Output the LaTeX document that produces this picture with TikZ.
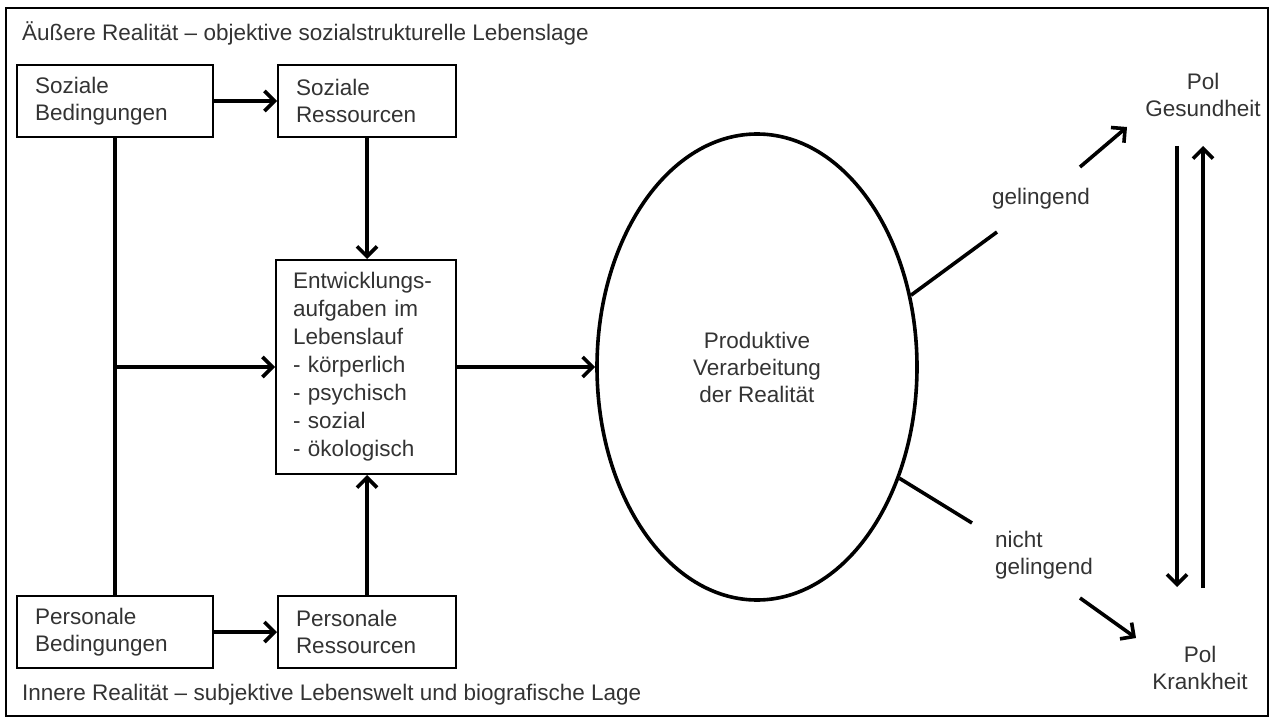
\documentclass[tikz,border=0pt]{standalone}
\usepackage{fontspec}
\setmainfont{Liberation Sans}
\usetikzlibrary{arrows.meta,shapes.geometric}
\definecolor{txtcol}{HTML}{333333}
\begin{document}
\begin{tikzpicture}[x=1pt,y=-1pt,
  txt/.style={text=txtcol, font=\fontsize{22.5}{27}\selectfont, inner sep=0pt},
  box/.style={txt, draw=black, line width=2pt, rectangle, inner xsep=18pt, inner ysep=0pt, align=left},
  conn/.style={line width=3.6pt, draw=black},
  arr/.style={conn, -{Straight Barb[length=10pt,width=20pt]}}
]
\useasboundingbox (0,0) rectangle (1274,722);
\draw[line width=1.5pt] (6,8) rectangle (1268,716);

\node[txt, anchor=west] (t1) at (22,33) {Äußere Realität – objektive sozialstrukturelle Lebenslage};
\node[txt, anchor=west] (t2) at (22,695) {Innere Realität – subjektive Lebenswelt und biografische Lage};

\node[box, text width=160pt, minimum height=72pt] (sb) at (115,101) {Soziale\\Bedingungen};
\node[box, text width=142pt, minimum height=72pt] (sr) at (367,101) {Soziale\\Ressourcen};
\node[box, text width=160pt, minimum height=72pt] (pb) at (115,632) {Personale\\Bedingungen};
\node[box, text width=142pt, minimum height=72pt] (pr) at (367,632) {Personale\\Ressourcen};
\node[box, inner xsep=17pt, text width=146pt, minimum height=214pt, font=\fontsize{22.5}{28}\selectfont] (ea) at (366,367)
  {Entwicklungs-\\aufgaben im\\Lebenslauf\\- körperlich\\- psychisch\\- sozial\\- ökologisch};

\node[txt, draw=black, line width=3.6pt, ellipse, minimum width=320pt, minimum height=466pt, align=center] (pv) at (757,367)
  {Produktive\\Verarbeitung\\der Realität};

\node[txt] (gel) at (1041,199) {gelingend};
\node[txt, align=left, anchor=west] (ng) at (995,555) {nicht\\gelingend};
\node[txt, align=center] (pg) at (1203,95) {Pol\\Gesundheit};
\node[txt, align=center] (pk) at (1200,668) {Pol\\Krankheit};

\coordinate (j) at (sb.south |- ea.west);
\coordinate (g1) at (997,232);
\coordinate (g2) at (1080,167);
\coordinate (g3) at (1127,127);
\coordinate (n1) at (972,523);
\coordinate (n2) at (1080,598);
\coordinate (n3) at (1136,638);
\coordinate (d1) at (1177,146);
\coordinate (d2) at (1177,587);
\coordinate (u1) at (1203,588);
\coordinate (u2) at (1203,146);

\draw[arr] (sb) -- (sr);
\draw[arr] (pb) -- (pr);
\draw[conn] (sb.south) -- (pb.north);
\draw[arr] (j) -- (ea.west);
\draw[arr] (sr.south) -- (sr.south |- ea.north);
\draw[arr] (pr.north) -- (pr.north |- ea.south);
\draw[arr] (ea.east) -- (pv.west);
\draw[conn] (pv.25) -- (g1);
\draw[conn] (pv.-38) -- (n1);
\draw[arr] (g2) -- (g3);
\draw[arr] (n2) -- (n3);
\draw[arr] (d1) -- (d2);
\draw[arr] (u1) -- (u2);
\end{tikzpicture}
\end{document}
